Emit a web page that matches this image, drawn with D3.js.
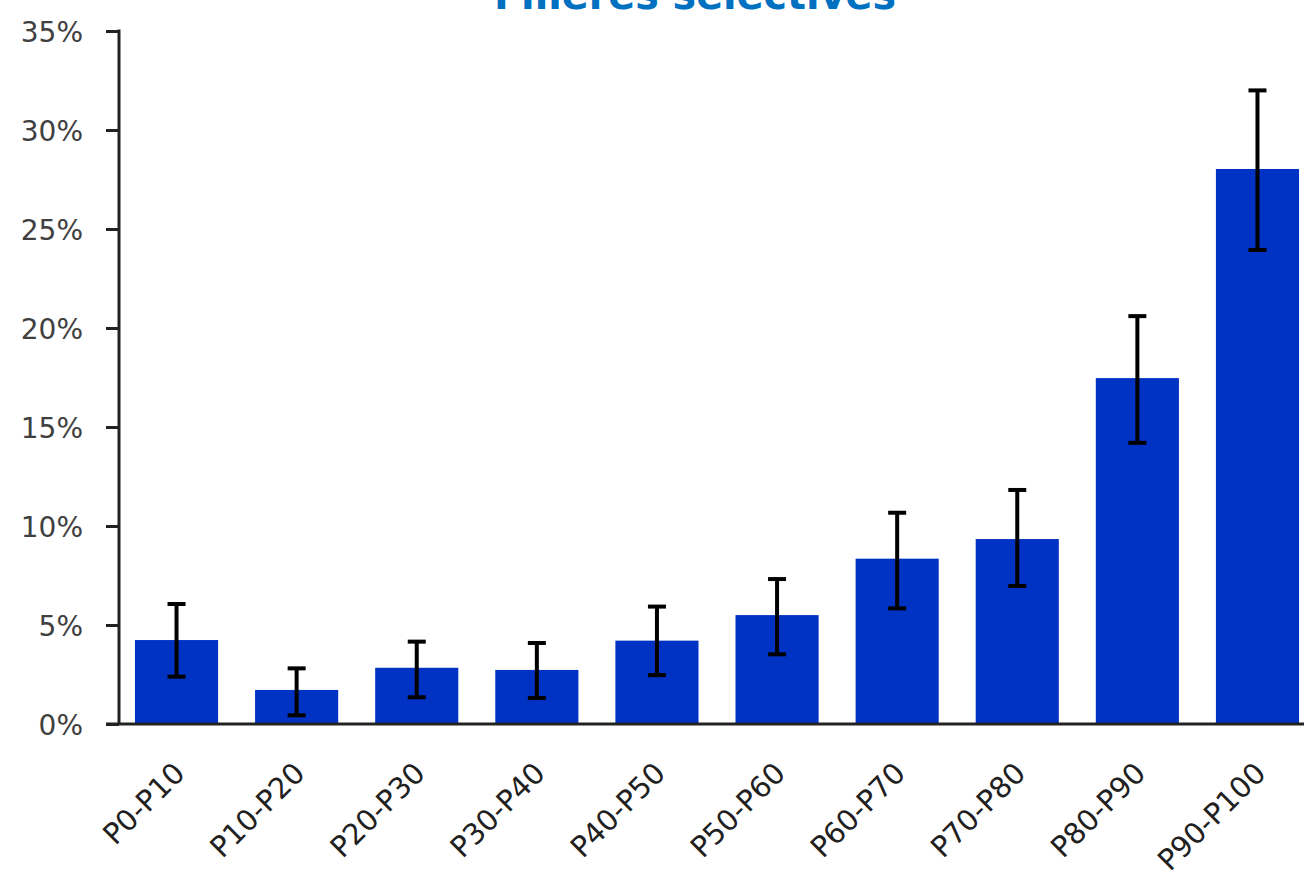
<!DOCTYPE html>
<html>
<head>
<meta charset="utf-8">
<script src="https://cdn.jsdelivr.net/npm/d3@7"></script>
<style>
  html, body { margin: 0; padding: 0; background: #fff; }
  svg { display: block; }
</style>
</head>
<body>
<svg id="chart" width="1304" height="876"></svg>
<script>
const title = "Filières sélectives";
const categories = ["P0-P10","P10-P20","P20-P30","P30-P40","P40-P50","P50-P60","P60-P70","P70-P80","P80-P90","P90-P100"];
const values  = [0.0424, 0.0172, 0.0284, 0.0273, 0.0421, 0.0550, 0.0835, 0.0934, 0.1747, 0.2803];
const errLow  = [0.0239, 0.0044, 0.0135, 0.0131, 0.0247, 0.0352, 0.0584, 0.0697, 0.1420, 0.2394];
const errHigh = [0.0606, 0.0281, 0.0416, 0.0409, 0.0593, 0.0732, 0.1067, 0.1182, 0.2060, 0.3200];
const yTicks  = [0, 0.05, 0.10, 0.15, 0.20, 0.25, 0.30, 0.35];

const svg = d3.select("#chart");
const axisX = 119, baseY = 724, topY = 31;

const y = d3.scaleLinear().domain([0, 0.35]).range([baseY, topY]);
const x = d3.scaleBand().domain(categories)
  .range([axisX, 1315]).paddingInner(0.308).paddingOuter(0.133);

const fontFam = "'DejaVu Sans', sans-serif";

// title (cut off at the top edge, as in the reference)
svg.append("text")
  .attr("x", 695).attr("y", 9)
  .attr("text-anchor", "middle")
  .attr("textLength", 402).attr("lengthAdjust", "spacingAndGlyphs")
  .style("font-family", fontFam).style("font-weight", "bold")
  .style("font-size", "40px").style("fill", "#0070C0")
  .text(title);

// bars
const data = categories.map((c, i) => ({c, v: values[i], lo: errLow[i], hi: errHigh[i]}));
svg.append("g").selectAll("rect").data(data).join("rect")
  .attr("x", d => x(d.c)).attr("width", x.bandwidth())
  .attr("y", d => y(d.v)).attr("height", d => y(0) - y(d.v))
  .attr("fill", "#0032C4");

// error bars
const eg = svg.append("g").attr("stroke", "#000").attr("stroke-width", 4);
const cx = d => x(d.c) + x.bandwidth() / 2;
eg.selectAll("line.v").data(data).join("line").attr("class","v")
  .attr("x1", cx).attr("x2", cx).attr("y1", d => y(d.hi)).attr("y2", d => y(d.lo));
eg.selectAll("line.t").data(data).join("line").attr("class","t")
  .attr("x1", d => cx(d) - 9).attr("x2", d => cx(d) + 9).attr("y1", d => y(d.hi)).attr("y2", d => y(d.hi));
eg.selectAll("line.b").data(data).join("line").attr("class","b")
  .attr("x1", d => cx(d) - 9).attr("x2", d => cx(d) + 9).attr("y1", d => y(d.lo)).attr("y2", d => y(d.lo));

// y axis
const yAxis = d3.axisLeft(y).tickValues(yTicks).tickSize(13).tickPadding(23)
  .tickFormat(d3.format(".0%"));
const gy = svg.append("g").attr("transform", `translate(${axisX},0)`).call(yAxis);
gy.select(".domain").remove();
gy.selectAll(".tick line").attr("stroke", "#222").attr("stroke-width", 3);
gy.selectAll(".tick text").style("font-family", fontFam).style("font-size", "28px")
  .style("fill", "#404040").attr("dy", "0.36em");
svg.append("line").attr("x1", axisX).attr("x2", axisX).attr("y1", topY - 1.5).attr("y2", baseY)
  .attr("stroke", "#222").attr("stroke-width", 3);

// x axis
const xAxis = d3.axisBottom(x).tickSize(0).tickPadding(0);
const gx = svg.append("g").attr("transform", `translate(0,${baseY})`).call(xAxis);
gx.select(".domain").remove();
gx.selectAll(".tick text")
  .style("font-family", fontFam).style("font-size", "29px").style("fill", "#202020")
  .attr("text-anchor", "end").attr("dy", 0).attr("y", 0)
  .attr("transform", "translate(10,51) rotate(-45)");
svg.append("line").attr("x1", 106).attr("x2", 1304).attr("y1", baseY).attr("y2", baseY)
  .attr("stroke", "#222").attr("stroke-width", 3);
</script>
</body>
</html>
